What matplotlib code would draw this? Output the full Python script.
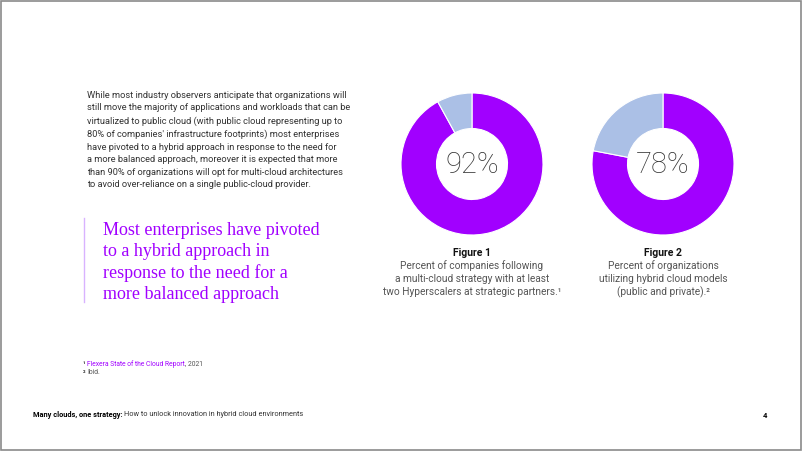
import matplotlib
matplotlib.use("Agg")
import matplotlib.pyplot as plt
from matplotlib.patches import Rectangle

# chart data
figure_labels = ["Figure 1", "Figure 2"]
shares = [92, 78]
captions = [
    "Percent of companies following\na multi-cloud strategy with at least\ntwo Hyperscalers at strategic partners.\u00b9",
    "Percent of organizations\nutilizing hybrid cloud models\n(public and private).\u00b2",
]
centers_px = [(472, 164), (663, 164)]

body_text = ("While most industry observers anticipate that organizations will\n"
             "still move the majority of applications and workloads that can be\n"
             "virtualized to public cloud (with public cloud representing up to\n"
             "80% of companies' infrastructure footprints) most enterprises\n"
             "have pivoted to a hybrid approach in response to the need for\n"
             "a more balanced approach, moreover it is expected that more\n"
             "than 90% of organizations will opt for multi-cloud architectures\n"
             "to avoid over-reliance on a single public-cloud provider.")
quote_text = ("Most enterprises have pivoted\n"
              "to a hybrid approach in\n"
              "response to the need for a\n"
              "more balanced approach")

PURPLE = "#A100FF"
LIGHT = "#abc0e6"
W, H = 802, 451

fig = plt.figure(figsize=(W / 100, H / 100), dpi=100)
page = fig.add_axes([0, 0, 1, 1])
page.set_xlim(0, W)
page.set_ylim(H, 0)
page.axis("off")

page.add_patch(Rectangle((1, 1), W - 2.5, H - 2.5, fill=False, edgecolor="#8a8a8a", linewidth=1.2))

sans = ["Roboto", "DejaVu Sans"]

page.text(87, 91, body_text, fontsize=6.7, family=sans, color="#333333",
          va="top", ha="left", linespacing=1.5)

page.plot([84, 84], [218, 302], color="#d9b3ff", linewidth=1)
page.text(103, 222, quote_text, fontsize=13.0, family=["Liberation Serif"], color=PURPLE,
          va="top", ha="left", linespacing=1.3)

# donuts
r = 71
for (cx, cy), share, lab, cap in zip(centers_px, shares, figure_labels, captions):
    ax = fig.add_axes([(cx - r) / W, (H - cy - r) / H, 2 * r / W, 2 * r / H])
    ax.pie([share, 100 - share], colors=[PURPLE, LIGHT], startangle=90, counterclock=False,
           radius=1, wedgeprops=dict(width=0.5, edgecolor="white", linewidth=0.8))
    ax.set_xlim(-1, 1)
    ax.set_ylim(-1, 1)
    ax.set_aspect("equal")
    ax.axis("off")
    ax.text(0, -0.02, f"{share}%", ha="center", va="center", fontsize=21,
            family=sans, fontweight="light", color="#333333")
    page.text(cx, 253, lab, ha="center", va="center", fontsize=7.5, family=sans,
              fontweight="bold", color="#111111")
    page.text(cx, 260, cap, ha="center", va="top", fontsize=7.3, family=sans,
              color="#555555", linespacing=1.35)


def chain(x, y, parts, fontsize):
    # place text pieces one after another on a line
    r = fig.canvas.get_renderer()
    for s, color, weight in parts:
        t = page.text(x, y, s, fontsize=fontsize, family=sans, color=color,
                      fontweight=weight, va="center", ha="left")
        bb = t.get_window_extent(renderer=r)
        x += bb.width


# footnotes
chain(83, 364, [("\u00b9 ", "#333333", "bold"),
                ("Flexera State of the Cloud Report", PURPLE, "normal"),
                (", 2021", "#555555", "normal")], 4.9)
chain(83, 373, [("\u00b2 ", "#333333", "bold"),
                ("Ibid.", "#555555", "normal")], 4.9)

# footer
chain(33, 415, [("Many clouds, one strategy: ", "#000000", "bold"),
                ("How to unlock innovation in hybrid cloud environments", "#333333", "normal")], 5.3)
page.text(765, 415, "4", fontsize=5.6, family=sans, fontweight="bold",
          color="#000000", va="center", ha="center")

fig.savefig("out.png", dpi=100)
